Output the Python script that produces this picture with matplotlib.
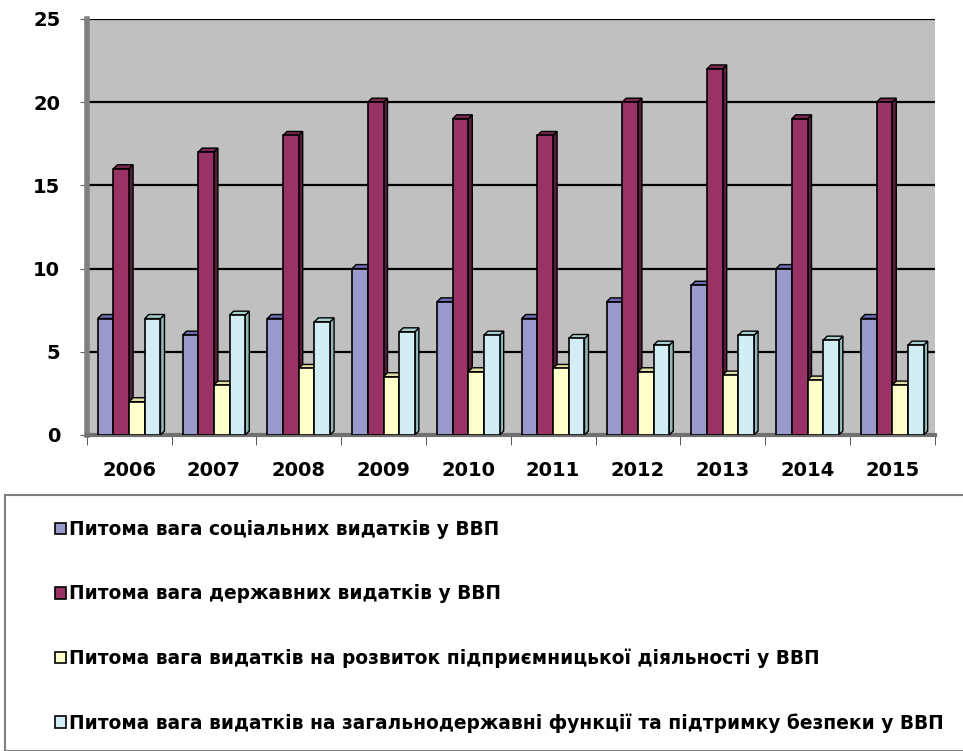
import matplotlib.pyplot as plt
import numpy as np
from matplotlib.patches import Polygon, Rectangle

years = ['2006', '2007', '2008', '2009', '2010', '2011', '2012', '2013', '2014', '2015']
social = [7, 6, 7, 10, 8, 7, 8, 9, 10, 7]
state = [16, 17, 18, 20, 19, 18, 20, 22, 19, 20]
business = [2, 3, 4, 3.5, 3.8, 4, 3.8, 3.6, 3.3, 3]
general = [7, 7.2, 6.8, 6.2, 6, 5.8, 5.4, 6, 5.7, 5.4]

labels = ['Питома вага соціальних видатків у ВВП',
          'Питома вага державних видатків у ВВП',
          'Питома вага видатків на розвиток підприємницької діяльності у ВВП',
          'Питома вага видатків на загальнодержавні функції та підтримку безпеки у ВВП']

# front, side, top colours
colors = [('#9999CC', '#55558F', '#6C6CB0'),
          ('#993366', '#5A1E3C', '#7A2850'),
          ('#FFFFCC', '#C8C896', '#E0E0A8'),
          ('#D2EEF4', '#8FB8B8', '#A8D0D0')]

plt.rcParams['font.family'] = ['DejaVu Sans']
W, H = 963, 751
fig = plt.figure(figsize=(W / 100, H / 100), dpi=100)
ax = fig.add_axes([86.7 / W, (H - 435) / H, (934.7 - 86.7) / W, (435 - 19) / H])
ax.set_facecolor('#C0C0C0')
ax.set_xlim(-0.5, 9.5)
ax.set_ylim(0, 25)

# depth of the fake 3d in data units (about 4 px)
dx = 4 / 84.8
dy = 4 / 16.64

x = np.arange(len(years))
w = 0.185
series = [social, state, business, general]
handles = []
for i, vals in enumerate(series):
    off = (i - 1.5) * w
    front, side, top = colors[i]
    for xi, v in zip(x + off, vals):
        x0, x1 = xi - w / 2, xi + w / 2
        ax.add_patch(Polygon([(x1, 0), (x1, v), (x1 + dx, v + dy), (x1 + dx, dy)],
                             closed=True, facecolor=side, edgecolor='black', lw=1, zorder=3 + i))
        ax.add_patch(Polygon([(x0, v), (x1, v), (x1 + dx, v + dy), (x0 + dx, v + dy)],
                             closed=True, facecolor=top, edgecolor='black', lw=1, zorder=3 + i))
    b = ax.bar(x + off, vals, width=w, color=front, edgecolor='black', lw=1.2,
               zorder=3 + i + 0.5, label=labels[i])
    handles.append(b)

ax.yaxis.grid(True, color='black', lw=1.6, zorder=1)
ax.set_axisbelow(True)
ax.set_yticks([0, 5, 10, 15, 20, 25])
ax.set_yticklabels(['0', '5', '10', '15', '20', '25'], fontsize=14, fontweight='bold')
ax.tick_params(axis='y', length=5, color='#606060', pad=14)
ax.set_xticks(x)
ax.set_xticklabels(years, fontsize=14, fontweight='bold')
ax.tick_params(axis='x', length=0, pad=19)
ax.set_xticks(np.arange(-0.5, 10, 1), minor=True)
ax.tick_params(axis='x', which='minor', length=7, color='#404040')
for s in ['top', 'right']:
    ax.spines[s].set_visible(False)
ax.spines['left'].set_color('#808080')
ax.spines['left'].set_linewidth(4)
ax.spines['bottom'].set_color('#707070')
ax.spines['bottom'].set_linewidth(3)

# legend box
fig.patches.append(Rectangle((5 / W, 0), 1, (H - 495) / H, transform=fig.transFigure,
                             facecolor='white', edgecolor='#808080', lw=1.5))
fig.legend(handles=handles, labels=labels, loc='upper left',
           bbox_to_anchor=(48 / W, (H - 513) / H), frameon=False,
           prop={'size': 13.4, 'weight': 'bold'}, handlelength=0.55, handleheight=0.55,
           handletextpad=0.2, labelspacing=2.42, borderaxespad=0)

fig.savefig('out.png', dpi=100)
